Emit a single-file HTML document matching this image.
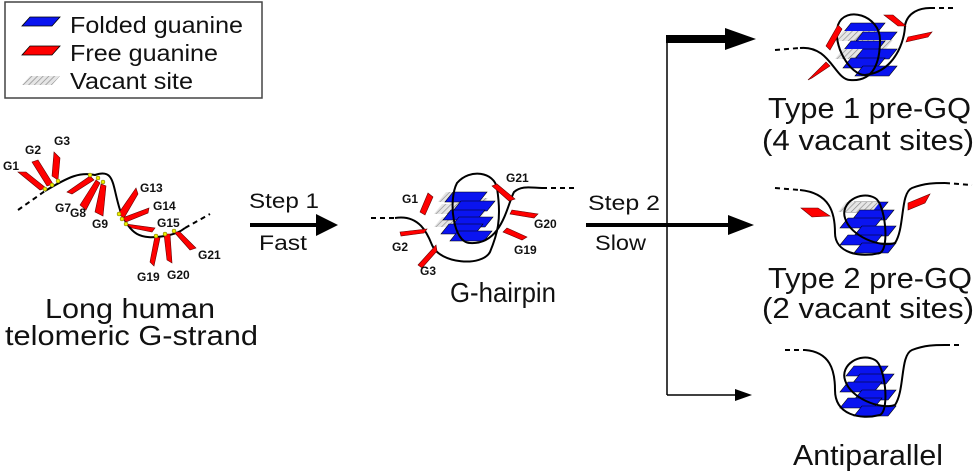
<!DOCTYPE html>
<html><head><meta charset="utf-8"><style>
html,body{margin:0;padding:0;background:#fff}
svg{display:block}
text{font-family:"Liberation Sans",sans-serif;fill:#111}
.g{font-size:12px;font-weight:bold}
</style></head><body>
<svg width="974" height="471" viewBox="0 0 974 471" xmlns="http://www.w3.org/2000/svg">
<defs>
<pattern id="h" width="4" height="4" patternUnits="userSpaceOnUse" patternTransform="rotate(45)">
<rect width="4" height="4" fill="#e6e6e6"/><line x1="0" y1="0" x2="0" y2="4" stroke="#888" stroke-width="1.3"/></pattern>
<polygon id="b" points="8,0 42,0 34,10 0,10" fill="#0a14f0" stroke="#000" stroke-width="0.6"/>
<polygon id="v" points="8,0 42,0 34,10 0,10" fill="url(#h)"/>
</defs>

<!-- legend -->
<rect x="5" y="2" width="257" height="96" fill="#fff" stroke="#444" stroke-width="1.5"/>
<polygon points="30,17 60,17 52,26 22,26" fill="#0a14f0" stroke="#000" stroke-width="0.8"/>
<polygon points="30,46 60,46 52,55 22,55" fill="#f00" stroke="#000" stroke-width="0.8"/>
<polygon points="30,76 60,76 52,85 22,85" fill="url(#h)"/>
<text x="70" y="33" font-size="23" textLength="173" lengthAdjust="spacingAndGlyphs">Folded guanine</text>
<text x="70" y="61" font-size="23" textLength="148" lengthAdjust="spacingAndGlyphs">Free guanine</text>
<text x="70" y="89" font-size="23" textLength="123" lengthAdjust="spacingAndGlyphs">Vacant site</text>

<!-- long strand -->
<path d="M18,210 L45,191" stroke="#000" stroke-width="2" stroke-dasharray="5,4" fill="none"/>
<path d="M45,191 C70,176 80,172 95,175 C115,168 112,185 120,210 C130,235 140,240 165,236 C175,234 180,232 185,228" stroke="#000" stroke-width="2" fill="none"/>
<path d="M185,228 L210,214" stroke="#000" stroke-width="2" stroke-dasharray="5,4" fill="none"/>
<g>
<polygon points="18,172 26,172 46,188 40,190" fill="#f00" stroke="#600" stroke-width=".6"/>
<polygon points="32,162 38,160 53,184 47,186" fill="#f00" stroke="#600" stroke-width=".6"/>
<polygon points="54,152 60,158 58,180 52,176" fill="#f00" stroke="#600" stroke-width=".6"/>
<polygon points="67,192 90,176 94,180 72,194" fill="#f00" stroke="#600" stroke-width=".6"/>
<polygon points="80,205 96,180 100,183 86,210" fill="#f00" stroke="#600" stroke-width=".6"/>
<polygon points="95,212 101,184 106,186 103,216" fill="#f00" stroke="#600" stroke-width=".6"/>
<polygon points="118,214 136,188 138,194 124,218" fill="#f00" stroke="#600" stroke-width=".6"/>
<polygon points="122,218 149,208 148,213 126,222" fill="#f00" stroke="#600" stroke-width=".6"/>
<polygon points="126,224 155,228 152,232 132,228" fill="#f00" stroke="#600" stroke-width=".6"/>
<polygon points="155,236 160,238 154,266 150,262" fill="#f00" stroke="#600" stroke-width=".6"/>
<polygon points="164,234 170,234 172,263 167,260" fill="#f00" stroke="#600" stroke-width=".6"/>
<polygon points="174,232 180,232 196,248 190,250" fill="#f00" stroke="#600" stroke-width=".6"/>
</g>
<g fill="#ee0" stroke="#660" stroke-width=".5">
<circle cx="45" cy="189" r="2"/><circle cx="52" cy="185" r="2"/><circle cx="58" cy="181" r="2"/>
<circle cx="90" cy="175" r="2"/><circle cx="98" cy="178" r="2"/><circle cx="103" cy="182" r="2"/>
<circle cx="119" cy="214" r="2"/><circle cx="122" cy="219" r="2"/><circle cx="126" cy="224" r="2"/>
<circle cx="156" cy="236" r="2"/><circle cx="165" cy="234" r="2"/><circle cx="174" cy="231" r="2"/>
</g>
<text class="g" x="3" y="170">G1</text><text class="g" x="25" y="154">G2</text><text class="g" x="54" y="145">G3</text>
<text class="g" x="55" y="212">G7</text><text class="g" x="70" y="217">G8</text><text class="g" x="92" y="228">G9</text>
<text class="g" x="140" y="192">G13</text><text class="g" x="153" y="210">G14</text><text class="g" x="157" y="227">G15</text>
<text class="g" x="198" y="259">G21</text><text class="g" x="137" y="281">G19</text><text class="g" x="167" y="279">G20</text>
<text x="45" y="318" font-size="28" textLength="170" lengthAdjust="spacingAndGlyphs">Long human</text>
<text x="5" y="345" font-size="28" textLength="253" lengthAdjust="spacingAndGlyphs">telomeric G-strand</text>

<!-- step 1 -->
<text x="249" y="208" font-size="21" textLength="70" lengthAdjust="spacingAndGlyphs">Step 1</text>
<text x="259" y="250" font-size="21" textLength="48" lengthAdjust="spacingAndGlyphs">Fast</text>
<line x1="250" y1="225" x2="318" y2="225" stroke="#000" stroke-width="4"/>
<polygon points="316,214 338,225 316,236" fill="#000"/>

<!-- hairpin -->
<g transform="translate(438,186)">
<use href="#v" x="0" y="6"/><use href="#v" x="8" y="12"/><use href="#v" x="-4" y="18"/><use href="#v" x="6" y="25"/><use href="#v" x="-4" y="31"/><use href="#v" x="4" y="38"/>
<use href="#b" x="7" y="6"/><use href="#b" x="15" y="15"/><use href="#b" x="5" y="24"/><use href="#b" x="13" y="31"/><use href="#b" x="3" y="38"/><use href="#b" x="12" y="45"/>
</g>
<path d="M371,218 L395,218" stroke="#000" stroke-width="2" stroke-dasharray="5,4" fill="none"/>
<path d="M395,218 C420,214 428,235 432,245 C440,264 482,267 490,252 C497,235 502,220 497,188 C494,172 470,168 457,183 C448,200 453,243 470,243 C502,245 507,205 514,192 C522,185 532,188 542,188" stroke="#000" stroke-width="2" fill="none"/>
<path d="M542,188 L575,188" stroke="#000" stroke-width="2" stroke-dasharray="5,4" fill="none"/>
<polygon points="428,193 433,197 425,215 420,212" fill="#f00" stroke="#600" stroke-width=".6"/>
<polygon points="400,232 427,229 424,233 401,236" fill="#f00" stroke="#600" stroke-width=".6"/>
<polygon points="418,265 436,245 437,251 422,268" fill="#f00" stroke="#600" stroke-width=".6"/>
<polygon points="492,186 497,184 515,199 509,201" fill="#f00" stroke="#600" stroke-width=".6"/>
<polygon points="512,210 538,214 534,218 510,214" fill="#f00" stroke="#600" stroke-width=".6"/>
<polygon points="507,228 527,237 522,240 503,232" fill="#f00" stroke="#600" stroke-width=".6"/>
<text class="g" x="402" y="203">G1</text><text class="g" x="392" y="251">G2</text><text class="g" x="420" y="275">G3</text>
<text class="g" x="506" y="182">G21</text><text class="g" x="534" y="228">G20</text><text class="g" x="514" y="254">G19</text>
<text x="450" y="302" font-size="28" textLength="106" lengthAdjust="spacingAndGlyphs">G-hairpin</text>

<!-- step 2 -->
<text x="588" y="210" font-size="21" textLength="72" lengthAdjust="spacingAndGlyphs">Step 2</text>
<text x="595" y="250" font-size="21" textLength="51" lengthAdjust="spacingAndGlyphs">Slow</text>
<line x1="586" y1="225" x2="730" y2="225" stroke="#000" stroke-width="4"/>
<polygon points="728,215 754,225 728,235" fill="#000"/>
<line x1="667" y1="35" x2="667" y2="395" stroke="#000" stroke-width="1.5"/>
<rect x="666" y="35" width="62" height="8" fill="#000"/>
<polygon points="725,28 756,39 725,50" fill="#000"/>
<line x1="667" y1="395" x2="738" y2="395" stroke="#000" stroke-width="1.5"/>
<polygon points="735,389 752,395 735,401" fill="#000"/>

<!-- type 1 -->
<g transform="translate(835,15)">
<use href="#b" x="8" y="8"/><use href="#v" x="0" y="16"/><use href="#b" x="20" y="17"/><use href="#v" x="16" y="25"/><use href="#b" x="8" y="26"/><use href="#v" x="0" y="34"/><use href="#b" x="20" y="34"/><use href="#b" x="8" y="43"/><use href="#b" x="20" y="51"/>
</g>
<path d="M775,50 L800,48" stroke="#000" stroke-width="2" stroke-dasharray="5,4" fill="none"/>
<path d="M800,48 C830,45 835,80 850,80 C875,82 880,60 880,40 C880,15 845,5 838,25 C832,45 850,75 865,75 C895,72 905,40 905,25 C908,12 920,8 930,8" stroke="#000" stroke-width="2" fill="none"/>
<path d="M930,8 L955,8" stroke="#000" stroke-width="2" stroke-dasharray="5,4" fill="none"/>
<polygon points="838,25 842,29 830,50 826,46" fill="#f00" stroke="#600" stroke-width=".6"/>
<polygon points="808,80 826,62 830,66 812,78" fill="#f00" stroke="#600" stroke-width=".6"/>
<polygon points="884,15 893,15 906,26 898,26" fill="#f00" stroke="#600" stroke-width=".6"/>
<polygon points="908,37 932,32 928,37 906,42" fill="#f00" stroke="#600" stroke-width=".6"/>
<text x="768" y="118" font-size="29" textLength="203" lengthAdjust="spacingAndGlyphs">Type 1 pre-GQ</text>
<text x="762" y="150" font-size="29" textLength="212" lengthAdjust="spacingAndGlyphs">(4 vacant sites)</text>

<!-- type 2 -->
<g transform="translate(838,198)">
<use href="#b" x="8" y="4"/><use href="#v" x="0" y="4"/><use href="#b" x="14" y="12"/><use href="#b" x="2" y="20"/><use href="#b" x="16" y="28"/><use href="#b" x="2" y="37"/><use href="#b" x="16" y="45"/>
</g>
<path d="M775,188 L800,190" stroke="#000" stroke-width="2" stroke-dasharray="5,4" fill="none"/>
<path d="M800,190 C830,193 835,213 835,233 C835,253 860,258 880,253 C890,248 885,203 875,198 C860,190 840,203 845,218 C850,236 880,248 895,243 C905,228 900,193 912,188 C925,183 935,183 945,183" stroke="#000" stroke-width="2" fill="none"/>
<path d="M945,183 L972,185" stroke="#000" stroke-width="2" stroke-dasharray="5,4" fill="none"/>
<polygon points="801,208 818,208 830,216 812,217" fill="#f00" stroke="#600" stroke-width=".6"/>
<polygon points="908,203 930,194 925,203 908,210" fill="#f00" stroke="#600" stroke-width=".6"/>
<text x="768" y="288" font-size="29" textLength="204" lengthAdjust="spacingAndGlyphs">Type 2 pre-GQ</text>
<text x="762" y="318" font-size="29" textLength="212" lengthAdjust="spacingAndGlyphs">(2 vacant sites)</text>

<!-- antiparallel -->
<g transform="translate(838,360)">
<use href="#b" x="8" y="6"/><use href="#b" x="14" y="14"/><use href="#b" x="2" y="22"/><use href="#b" x="16" y="30"/><use href="#b" x="2" y="38"/><use href="#b" x="16" y="46"/>
</g>
<path d="M785,350 L805,350" stroke="#000" stroke-width="2" stroke-dasharray="5,4" fill="none"/>
<path d="M805,350 C830,352 835,370 835,390 C835,415 860,420 880,415 C890,410 885,365 875,360 C860,352 840,365 845,380 C850,398 880,410 895,405 C905,390 900,355 912,350 C925,345 935,345 945,345" stroke="#000" stroke-width="2" fill="none"/>
<path d="M945,345 L962,345" stroke="#000" stroke-width="2" stroke-dasharray="5,4" fill="none"/>
<text x="793" y="465" font-size="29" textLength="150" lengthAdjust="spacingAndGlyphs">Antiparallel</text>
</svg>
</body></html>
